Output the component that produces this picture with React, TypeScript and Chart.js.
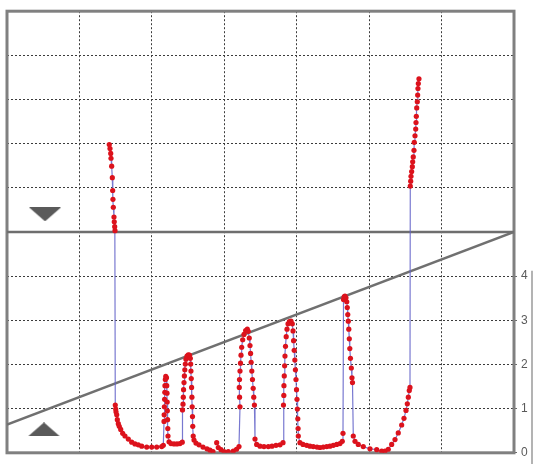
import React, { useEffect, useRef } from 'react';
import { Chart, registerables } from 'chart.js';

Chart.register(...registerables);

// Axis ranges (time units on x, signal units on y)
const X_MIN = 0;
const X_MAX = 70;
const X_STEP = 10;
const Y_MIN = 0;
const Y_MAX = 10;
const Y_STEP = 1;

// Measured signal (time, value); null = gap in recording
const seriesX = [
  14.12, 14.22, 14.32, 14.36, 14.45, 14.54, 14.59, 14.63, 14.68, 14.77, 14.81, 14.87, 14.91, 14.95, 15.01, 15.05,
  15.15, 15.23, 15.37, 15.5, 15.7, 15.97, 16.29, 16.75, 17.22, 17.67, 18.13, 18.6, 19.29, 19.98, 20.67, 21.36,
  21.58, 21.68, 21.7, 21.73, 21.76, 21.79, 21.81, 21.86, 21.92, 22.02, 22.06, 22.09, 22.12, 22.14, 22.17, 22.2,
  22.23, 22.37, 22.64, 23.06, 23.47, 23.88, 24.2,
  24.23, 24.3, 24.34, 24.38, 24.44, 24.49, 24.55, 24.62, 24.71, 24.85, 25.03, 25.2, 25.31, 25.36, 25.4, 25.44,
  25.49, 25.53, 25.57, 25.61, 25.65, 25.71, 25.82, 26.09, 26.51, 27.06, 27.61, 28.03, 28.44,
  28.7,
  28.95, 29.17, 29.55, 29.96, 30.55, 31.24, 31.69, 32.03,
  32.17, 32.11, 32.07, 32.1, 32.17, 32.24, 32.31, 32.4, 32.54, 32.72, 32.95, 33.18, 33.31, 33.45, 33.55, 33.63,
  33.71, 33.8, 33.89, 33.99, 34.07, 34.16, 34.24, 34.47, 34.93, 35.48, 36.08, 36.59, 37.14, 37.69, 38.11,
  38.17, 38.22, 38.24, 38.28, 38.33, 38.38, 38.45, 38.55, 38.66, 38.8, 39.0, 39.21, 39.39, 39.49, 39.57, 39.65,
  39.74, 39.82, 39.9, 39.97, 40.04, 40.09, 40.15, 40.19, 40.22, 40.45, 40.87, 41.38, 41.83, 42.29, 42.8, 43.21,
  43.67, 44.14, 44.59, 45.05, 45.52, 45.97, 46.29, 46.39,
  46.46, 46.55, 46.66, 46.8, 46.91, 46.98, 47.05, 47.12, 47.19, 47.26, 47.33, 47.42, 47.54, 47.63, 47.7, 47.81,
  48.05, 48.5, 49.19, 50.12, 51.04, 51.73, 52.19, 52.64, 53.11, 53.57, 54.02, 54.49, 54.81, 55.09, 55.27, 55.41,
  55.54, 55.64,
  55.68, 55.74, 55.78, 55.87, 55.96, 56.01, 56.09, 56.19, 56.23, 56.33, 56.43, 56.47, 56.51, 56.57, 56.65, 56.7,
  56.74, 56.79, 56.88,
];

const seriesY: (number | null)[] = [
  6.98, 6.89, 6.78, 6.67, 6.49, 6.23, 5.94, 5.74, 5.56, 5.34, 5.23, 5.12, 5.03, 1.08, 0.99, 0.93,
  0.86, 0.75, 0.66, 0.6, 0.53, 0.44, 0.38, 0.31, 0.24, 0.2, 0.18, 0.15, 0.13, 0.13, 0.13, 0.14,
  0.17, 0.71, 0.86, 1.04, 1.21, 1.37, 1.52, 1.66, 1.73, 1.7, 1.52, 1.35, 1.15, 0.95, 0.75, 0.55,
  0.38, 0.25, 0.21, 0.2, 0.2, 0.21, 0.24,
  0.97, 1.1, 1.26, 1.43, 1.59, 1.74, 1.88, 2.01, 2.12, 2.19, 2.22, 2.21, 2.14, 2.01, 1.85, 1.68,
  1.48, 1.26, 1.04, 0.82, 0.6, 0.38, 0.29, 0.22, 0.18, 0.13, 0.09, 0.06, 0.03,
  null,
  0.23, 0.12, 0.07, 0.03, 0.03, 0.04, 0.08, 0.14,
  1.04, 1.26, 1.48, 1.66, 1.85, 2.03, 2.21, 2.39, 2.56, 2.68, 2.77, 2.8, 2.75, 2.6, 2.43, 2.25,
  2.05, 1.85, 1.66, 1.46, 1.26, 1.08, 0.31, 0.19, 0.15, 0.14, 0.14, 0.15, 0.17, 0.18, 0.23,
  1.08, 1.3, 1.52, 1.74, 1.97, 2.19, 2.41, 2.63, 2.8, 2.92, 2.97, 2.98, 2.92, 2.76, 2.54, 2.32,
  2.1, 1.88, 1.66, 1.43, 1.21, 0.99, 0.77, 0.55, 0.38, 0.23, 0.19, 0.17, 0.15, 0.14, 0.13, 0.12,
  0.13, 0.14, 0.15, 0.17, 0.19, 0.21, 0.26, 0.44,
  3.47, 3.53, 3.55, 3.51, 3.42, 3.29, 3.13, 2.98, 2.8, 2.58, 2.36, 2.14, 1.92, 1.7, 1.59, 0.38,
  0.26, 0.19, 0.14, 0.09, 0.07, 0.04, 0.04, 0.08, 0.19, 0.3, 0.45, 0.63, 0.78, 0.96, 1.11, 1.26,
  1.41, 1.48,
  6.04, 6.15, 6.26, 6.37, 6.48, 6.59, 6.7, 6.85, 7.03, 7.18, 7.33, 7.48, 7.62, 7.81, 7.95, 8.1,
  8.25, 8.36, 8.47,
];

// Horizontal divider level and sloped trend line endpoints
const dividerLevel = 5;
const trendX = [0, 70];
const trendY = [0.64, 5];

// Scroll markers
const markerX = [5.1, 5.25];
const markerY = [0.53, 5.4];
const markerDir = ['up', 'down'];

// Right axis tick labels
const rightTickLabels = ['0', '1', '2', '3', '4'];
const rightAxisTop = 4.12;

function makeTriangle(dir: string) {
  const c = document.createElement('canvas');
  c.width = 32;
  c.height = 14;
  const ctx = c.getContext('2d')!;
  ctx.fillStyle = '#5a5a5a';
  ctx.beginPath();
  if (dir === 'up') {
    ctx.moveTo(16, 0);
    ctx.lineTo(32, 14);
    ctx.lineTo(0, 14);
  } else {
    ctx.moveTo(0, 0);
    ctx.lineTo(32, 0);
    ctx.lineTo(16, 14);
  }
  ctx.closePath();
  ctx.fill();
  return c;
}

const framePlugin = {
  id: 'frame',
  beforeDatasetsDraw(chart: any) {
    const { ctx, chartArea: a } = chart;
    ctx.save();
    ctx.strokeStyle = '#808080';
    ctx.lineWidth = 3;
    ctx.strokeRect(a.left, a.top, a.right - a.left, a.bottom - a.top);
    const y2 = chart.scales.y2;
    ctx.strokeStyle = '#9a9a9a';
    ctx.lineWidth = 1.5;
    const xl = a.right + 18;
    ctx.beginPath();
    ctx.moveTo(xl, y2.getPixelForValue(rightAxisTop));
    ctx.lineTo(xl, chart.height);
    ctx.stroke();
    ctx.restore();
  },
};

export default function App() {
  const ref = useRef<HTMLCanvasElement>(null);

  useEffect(() => {
    if (!ref.current) return;
    const signal = seriesX.map((x, i) => ({ x, y: seriesY[i] }));
    const markers = markerX.map((x, i) => ({ x, y: markerY[i] }));
    const chart = new Chart(ref.current, {
      type: 'scatter',
      data: {
        datasets: [
          {
            data: signal as any,
            showLine: true,
            spanGaps: false,
            borderColor: 'rgba(96,96,200,0.85)',
            borderWidth: 1.2,
            pointRadius: 2.6,
            pointBackgroundColor: '#dc121c',
            pointBorderWidth: 0,
          },
          {
            data: markers,
            showLine: false,
            pointStyle: markerDir.map((d) => makeTriangle(d)) as any,
          },
          {
            data: trendX.map((x, i) => ({ x, y: trendY[i] })),
            showLine: true,
            borderColor: '#707070',
            borderWidth: 2.5,
            pointRadius: 0,
          },
          {
            data: trendX.map((x) => ({ x, y: dividerLevel })),
            showLine: true,
            borderColor: '#6e6e6e',
            borderWidth: 2.5,
            pointRadius: 0,
          },
        ],
      },
      options: {
        responsive: false,
        animation: false,
        events: [],
        layout: { padding: { left: 7, top: 4, right: 0, bottom: 7 } },
        plugins: { legend: { display: false }, tooltip: { enabled: false } },
        scales: {
          x: {
            type: 'linear',
            min: X_MIN,
            max: X_MAX,
            ticks: { display: false, stepSize: X_STEP },
            grid: { color: '#3c3c3c', lineWidth: 1, drawTicks: false },
            border: { display: false, dash: [2, 2] },
            afterFit: (s: any) => {
              s.height = 0;
            },
          },
          y: {
            type: 'linear',
            min: Y_MIN,
            max: Y_MAX,
            ticks: { display: false, stepSize: Y_STEP },
            grid: { color: '#3c3c3c', lineWidth: 1, drawTicks: false },
            border: { display: false, dash: [2, 2] },
            afterFit: (s: any) => {
              s.width = 0;
            },
          },
          y2: {
            type: 'linear',
            position: 'right',
            min: Y_MIN,
            max: Y_MAX,
            ticks: {
              stepSize: Y_STEP,
              padding: 4,
              color: '#5a5a5a',
              font: { family: 'Liberation Sans, Arial, sans-serif', size: 12 },
              callback: (v: any) => rightTickLabels[v] ?? '',
            },
            grid: {
              drawOnChartArea: false,
              drawTicks: true,
              tickLength: 3,
              color: (c: any) => (c.tick && c.tick.value <= 4 ? '#666' : 'rgba(0,0,0,0)'),
            },
            border: { display: false },
            afterFit: (s: any) => {
              s.width = 20;
            },
          },
        },
      },
      plugins: [framePlugin],
    });
    return () => chart.destroy();
  }, []);

  return (
    <div style={{ position: 'absolute', left: 0, top: 0, width: 534, height: 464, background: '#fff' }}>
      <canvas ref={ref} width={534} height={464} />
    </div>
  );
}
